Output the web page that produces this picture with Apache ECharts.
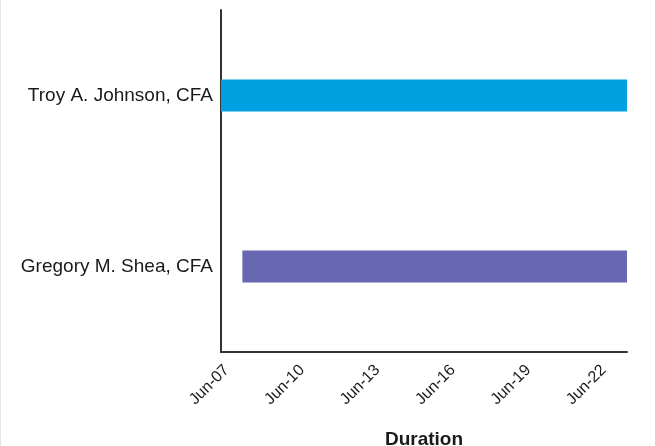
<!DOCTYPE html>
<html>
<head>
<meta charset="utf-8">
<script src="https://cdn.jsdelivr.net/npm/echarts@6/dist/echarts.min.js"></script>
<style>
    html, body { margin: 0; padding: 0; background: #fff; }
    #chart { width: 655px; height: 446px; box-sizing: border-box; border-left: 1px solid #e6e6e6; }
</style>
</head>
<body>
<div id="chart"></div>
<script>
// 数据：人员与任职起止（6月的日期，小数表示当天内的位置）
const people = ['Troy A. Johnson, CFA', 'Gregory M. Shea, CFA'];
const startDays = [7, 7.85];
const endDays = [23.15, 23.15];
const barColors = ['#00A1E1', '#6767B2'];
const tickLabels = ['Jun-07', 'Jun-10', 'Jun-13', 'Jun-16', 'Jun-19', 'Jun-22'];
const firstDay = 7;   // 轴起点 Jun-07
const lastDay = 23.15;

const chart = echarts.init(document.getElementById('chart'));

const option = {
    backgroundColor: '#fff',
    animation: false,
    grid: { left: 220, right: 28, top: 10, bottom: 94, containLabel: false, outerBoundsMode: 'none' },
    xAxis: {
        type: 'value',
        min: 0,
        max: lastDay - firstDay,
        interval: 3,
        name: 'Duration',
        nameLocation: 'middle',
        nameGap: 78,
        nameTextStyle: { fontFamily: 'Liberation Sans', fontSize: 19, fontWeight: 'bold', color: '#1a1a1a' },
        axisLine: { show: true, lineStyle: { color: '#333', width: 2 } },
        axisTick: { show: false },
        splitLine: { show: false },
        axisLabel: {
            rotate: 45,
            fontFamily: 'Liberation Sans',
            fontSize: 16,
            color: '#1a1a1a',
            margin: 10,
            verticalAlign: 'top',
            showMaxLabel: false,
            formatter: v => tickLabels[Math.round(v / 3)] || ''
        }
    },
    yAxis: {
        type: 'category',
        data: people,
        inverse: true,
        axisLine: { show: true, lineStyle: { color: '#333', width: 2 } },
        axisTick: { show: false },
        axisLabel: { fontFamily: 'Liberation Sans', fontSize: 19, color: '#1a1a1a', margin: 8 }
    },
    series: [
        {
            type: 'bar',
            stack: 'dur',
            silent: true,
            itemStyle: { color: 'transparent' },
            data: startDays.map(d => d - firstDay)
        },
        {
            type: 'bar',
            stack: 'dur',
            barWidth: 32,
            data: startDays.map((s, i) => ({
                value: endDays[i] - s,
                itemStyle: { color: barColors[i] }
            }))
        }
    ]
};
chart.setOption(option);
</script>
</body>
</html>
